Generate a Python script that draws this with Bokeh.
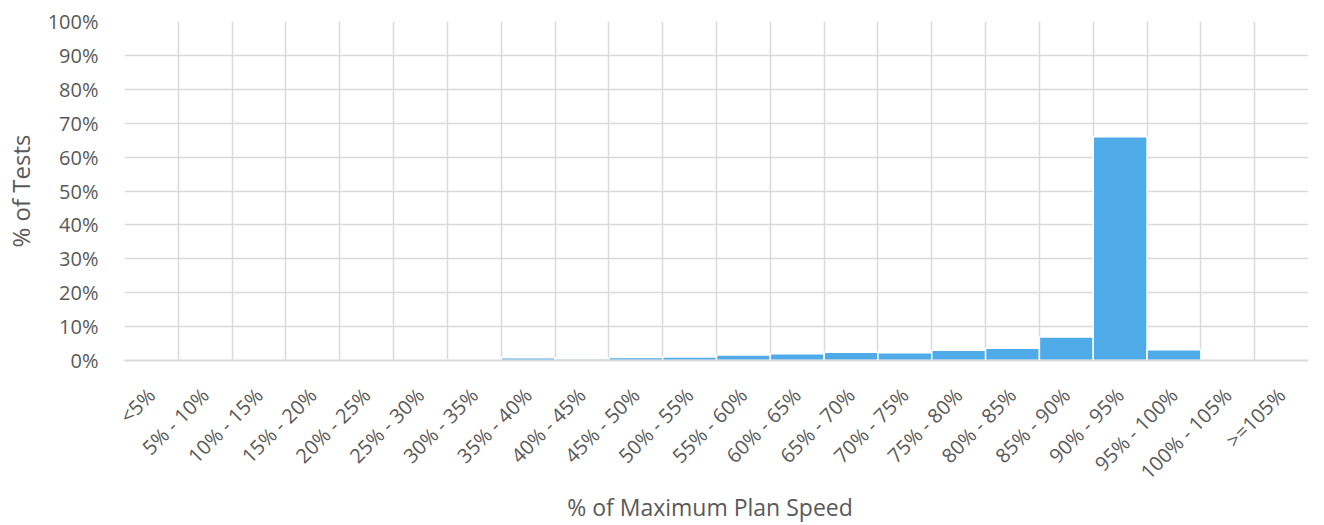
import math
from bokeh.plotting import figure
from bokeh.models import ColumnDataSource, FixedTicker, NumeralTickFormatter, Range1d, Div
from bokeh.layouts import column
from bokeh.embed import file_html
from bokeh.resources import INLINE

categories = ["<5%", "5% - 10%", "10% - 15%", "15% - 20%", "20% - 25%", "25% - 30%",
              "30% - 35%", "35% - 40%", "40% - 45%", "45% - 50%", "50% - 55%",
              "55% - 60%", "60% - 65%", "65% - 70%", "70% - 75%", "75% - 80%",
              "80% - 85%", "85% - 90%", "90% - 95%", "95% - 100%", "100% - 105%", ">=105%"]
share = [0.000, 0.000, 0.000, 0.000, 0.000, 0.002, 0.002, 0.008, 0.005, 0.009, 0.010,
         0.016, 0.020, 0.024, 0.023, 0.030, 0.036, 0.069, 0.660, 0.032, 0.000, 0.000]
y_ticks = [0, 0.1, 0.2, 0.3, 0.4, 0.5, 0.6, 0.7, 0.8, 0.9, 1.0]

n = len(categories)
xs = [i + 0.5 for i in range(n)]
src = ColumnDataSource(dict(x=xs, top=share))

p = figure(width=1308, height=497, output_backend="svg", toolbar_location=None,
           x_range=Range1d(0, n), y_range=Range1d(0, 1),
           min_border_left=110, min_border_right=0, min_border_top=21, min_border_bottom=126)
p.outline_line_color = None

p.vbar(x="x", top="top", width=1.0, bottom=0, source=src,
       fill_color="#4EABE8", line_color="white", line_width=1.5)

font = "Open Sans"
txt = "#595959"

p.xaxis.ticker = FixedTicker(ticks=xs)
p.xaxis.major_label_overrides = {x: c for x, c in zip(xs, categories)}
p.xaxis.major_label_orientation = math.pi / 4
p.xaxis.major_tick_line_color = None
p.xaxis.minor_tick_line_color = None
p.xaxis.axis_line_color = "#D9D9D9"
p.xaxis.axis_line_width = 2
p.xaxis.major_label_text_font = font
p.xaxis.major_label_text_font_size = "20px"
p.xaxis.major_label_text_color = txt
p.xaxis.major_label_standoff = 25

p.yaxis.ticker = FixedTicker(ticks=y_ticks)
p.yaxis.formatter = NumeralTickFormatter(format="0%")
p.yaxis.major_tick_line_color = None
p.yaxis.minor_tick_line_color = None
p.yaxis.axis_line_color = None
p.yaxis.major_label_text_font = font
p.yaxis.major_label_text_font_size = "20px"
p.yaxis.major_label_text_color = txt
p.yaxis.major_label_standoff = 20
p.yaxis.axis_label = "% of Tests"
p.yaxis.axis_label_text_font = font
p.yaxis.axis_label_text_font_size = "24px"
p.yaxis.axis_label_text_font_style = "normal"
p.yaxis.axis_label_text_color = txt
p.yaxis.axis_label_standoff = 8

p.xgrid.ticker = FixedTicker(ticks=list(range(n + 1)))
p.xgrid.grid_line_color = "#D9D9D9"
p.xgrid.grid_line_width = 1.5
p.ygrid.grid_line_color = "#D9D9D9"
p.ygrid.grid_line_width = 1.5

xtitle = Div(text="% of Maximum Plan Speed", width=1200, height=20, margin=(0, 0, 0, 110),
             styles={"font-family": "Open Sans", "font-size": "23px", "color": txt,
                     "text-align": "center", "line-height": "20px", "width": "1200px"})

layout = column(p, xtitle, spacing=0)
open("out.html", "w").write(file_html(layout, INLINE))
